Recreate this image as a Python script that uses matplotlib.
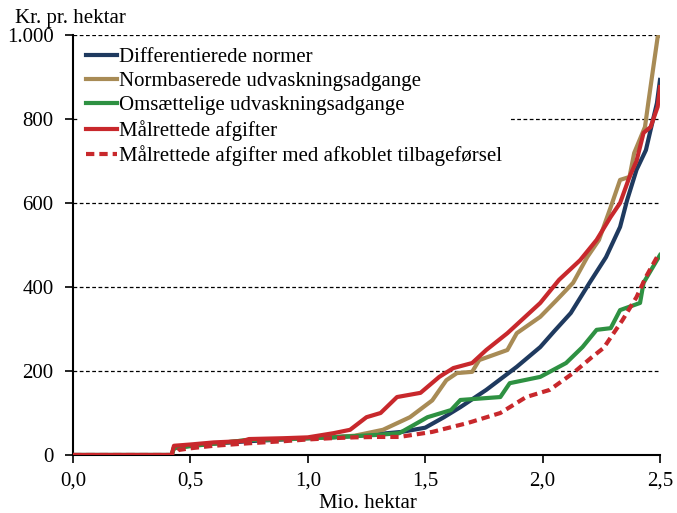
import matplotlib.pyplot as plt
from matplotlib.ticker import FuncFormatter

plt.rcParams['font.family'] = ['Liberation Serif', 'DejaVu Serif']

# Differentierede normer
x_diff = [0.0, 0.42, 0.43, 0.5, 0.6, 0.75, 0.9, 1.0, 1.1, 1.2, 1.3, 1.4, 1.5, 1.58, 1.65,
          1.76, 1.89, 1.99, 2.05, 2.12, 2.20, 2.27, 2.33, 2.36, 2.40, 2.44, 2.457, 2.487, 2.5]
y_diff = [0, 0, 18, 22, 27, 33, 37, 40, 42, 45, 50, 55, 65, 90, 114,
          155, 210, 257, 295, 338, 410, 471, 543, 607, 679, 726, 767, 838, 893]

# Normbaserede udvaskningsadgange
x_norm = [0.0, 0.42, 0.43, 0.5, 0.6, 0.75, 0.9, 1.0, 1.1, 1.2, 1.32, 1.435, 1.53, 1.59, 1.635,
          1.70, 1.73, 1.85, 1.89, 1.99, 2.06, 2.13, 2.19, 2.24, 2.29, 2.33, 2.37, 2.39,
          2.436, 2.45, 2.47, 2.49, 2.5]
y_norm = [0, 0, 18, 22, 27, 36, 38, 40, 42, 46, 60, 90, 130, 178, 195,
          198, 226, 250, 290, 329, 369, 410, 471, 512, 590, 655, 662, 719,
          781, 838, 917, 995, 1000]

# Omsættelige udvaskningsadgange
x_oms = [0.0, 0.42, 0.43, 0.5, 0.6, 0.75, 0.9, 1.0, 1.1, 1.2, 1.3, 1.39, 1.51, 1.61, 1.65,
         1.82, 1.86, 1.99, 2.10, 2.17, 2.23, 2.29, 2.33, 2.415, 2.43, 2.487, 2.5]
y_oms = [0, 0, 16, 21, 27, 36, 38, 40, 42, 45, 48, 52, 90, 107, 131,
         138, 171, 186, 219, 257, 298, 302, 345, 362, 410, 464, 476]

# Målrettede afgifter
x_maal = [0.0, 0.42, 0.43, 0.5, 0.6, 0.72, 0.75, 0.9, 1.0, 1.11, 1.18, 1.25, 1.31, 1.38, 1.48,
          1.56, 1.62, 1.70, 1.76, 1.85, 1.99, 2.07, 2.16, 2.23, 2.29, 2.33, 2.37, 2.40,
          2.43, 2.46, 2.49, 2.5]
y_maal = [0, 0, 22, 25, 30, 33, 38, 40, 42, 52, 60, 90, 100, 138, 148,
          186, 207, 219, 250, 290, 362, 417, 464, 512, 567, 600, 662, 700,
          767, 781, 829, 876]

# Målrettede afgifter med afkoblet tilbageførsel
x_dash = [0.0, 0.43, 0.45, 0.5, 0.6, 0.75, 0.9, 1.0, 1.1, 1.2, 1.3, 1.39, 1.53, 1.68, 1.82,
          1.93, 2.03, 2.13, 2.21, 2.26, 2.34, 2.40, 2.44, 2.487, 2.5]
y_dash = [0, 0, 12, 16, 22, 28, 33, 37, 40, 42, 43, 43, 55, 76, 100,
          138, 155, 195, 233, 255, 321, 376, 424, 471, 480]

series = [
    (x_diff, y_diff, '#1f3a5f', '-', 'Differentierede normer'),
    (x_norm, y_norm, '#a88b55', '-', 'Normbaserede udvaskningsadgange'),
    (x_oms, y_oms, '#2e9142', '-', 'Omsættelige udvaskningsadgange'),
    (x_maal, y_maal, '#c8282c', '-', 'Målrettede afgifter'),
    (x_dash, y_dash, '#c8282c', (0, (2, 1.2)), 'Målrettede afgifter med afkoblet tilbageførsel'),
]

fig = plt.figure(figsize=(6.77, 5.13), dpi=100)
ax = fig.add_axes([73 / 677, 1 - 455 / 513, (660 - 73) / 677, (455 - 35) / 513])

for xs, ys, col, ls, lab in series:
    ax.plot(xs, ys, color=col, linestyle=ls, linewidth=3, label=lab, zorder=3)

# stiplede hjælpelinjer
for yv in [200, 400, 600, 800, 1000]:
    ax.axhline(yv, color='black', linestyle=(0, (3, 2)), linewidth=0.9, zorder=1)

ax.set_xlim(0, 2.5)
ax.set_ylim(0, 1000)
ax.set_xticks([0, 0.5, 1.0, 1.5, 2.0, 2.5])
ax.set_yticks([0, 200, 400, 600, 800, 1000])
ax.xaxis.set_major_formatter(FuncFormatter(lambda v, p: f'{v:.1f}'.replace('.', ',')))
ax.yaxis.set_major_formatter(FuncFormatter(lambda v, p: f'{int(v):,}'.replace(',', '.')))
ax.tick_params(labelsize=15, direction='out', length=6, width=1.2, colors='black')
ax.tick_params(axis='x', pad=6)
ax.tick_params(axis='y', pad=8)

for s in ['top', 'right']:
    ax.spines[s].set_visible(False)
for s in ['left', 'bottom']:
    ax.spines[s].set_linewidth(1.5)

leg = ax.legend(loc='upper left', fontsize=15, frameon=True, handlelength=1.5,
                handletextpad=0.1, labelspacing=0.22, borderaxespad=0.3,
                borderpad=0.3, fancybox=False, framealpha=1)
leg.get_frame().set_edgecolor('white')
leg.set_zorder(2)

fig.text(15 / 677, 1 - 18 / 513, 'Kr. pr. hektar', fontsize=15, va='center', ha='left')
fig.text(368 / 677, 1 - 503 / 513, 'Mio. hektar', fontsize=15, va='center', ha='center')

fig.savefig('out.png', dpi=100)
